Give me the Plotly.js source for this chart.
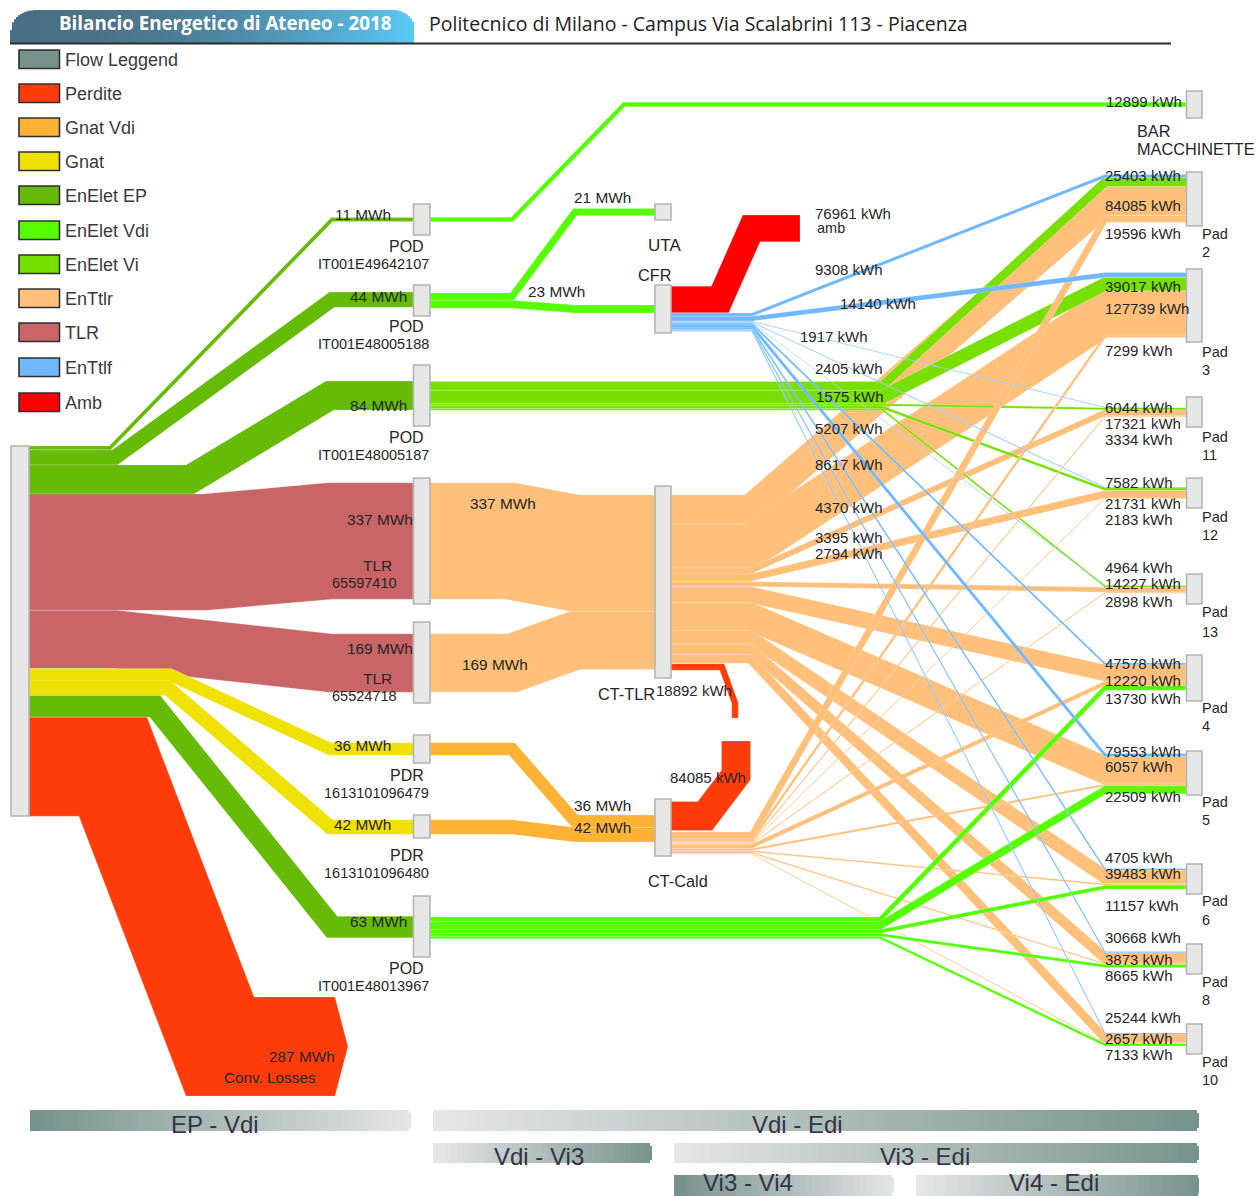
<!DOCTYPE html>
<html><head><meta charset="utf-8">
<script src="https://cdn.plot.ly/plotly-3.0.1.min.js"></script>
<style>html,body{margin:0;padding:0;background:#fff}#c{width:1256px;height:1196px}</style>
</head><body><div id="c"></div>
<script>
// ---------- DATA ----------
const padNames   = ['Pad 2','Pad 3','Pad 11','Pad 12','Pad 13','Pad 4','Pad 5','Pad 6','Pad 8','Pad 10'];
const enTtlf_kWh = [9308,14140,1917,2405,1575,5207,8617,4370,3395,2794];
const enVi_kWh   = [25403,39017,6044,7582,4964,0,0,0,0,0];
const enTtlr_kWh = [84085,127739,17321,21731,14227,47578,79553,39483,30668,25244];
const cald_kWh   = [19596,7299,3334,2183,2898,12220,6057,4705,3873,2657];
const enVdi_kWh  = [0,0,0,0,0,13730,22509,11157,8665,7133];
const bar_kWh    = 12899;
const ambient_kWh = 76961;
const lossCald_kWh = 84085;
const lossTlr_kWh = 18892;
const sourceNames = ['POD IT001E49642107','POD IT001E48005188','POD IT001E48005187','TLR 65597410','TLR 65524718','PDR 1613101096479','PDR 1613101096480','POD IT001E48013967','Conv. Losses'];
const source_MWh = [11,44,84,337,169,36,42,63,287];
const uta_MWh = 21;
const cfr_MWh = 23;
const legendNames = ['Flow Leggend','Perdite','Gnat Vdi','Gnat','EnElet EP','EnElet Vdi','EnElet Vi','EnTtlr','TLR','EnTtlf','Amb'];

// ---------- STYLE ----------
const C = {legend:'#75938c',loss:'#ff3c0a',gnatVdi:'#ffb233',gnat:'#efe100',ep:'#66bb06',vdi:'#55ff00',vi:'#77e000',ttlr:'#ffc07c',tlr:'#c96566',ttlf:'#70b8ff',amb:'#ff0000'};
const legendColors = [C.legend,C.loss,C.gnatVdi,C.gnat,C.ep,C.vdi,C.vi,C.ttlr,C.tlr,C.ttlf,C.amb];
const sourceColors = [C.ep,C.ep,C.ep,C.tlr,C.tlr,C.gnat,C.gnat,C.ep,C.loss];

// ---------- LAYOUT GEOMETRY ----------
const PX_PER_MWH = 0.345;
const w = mwh => mwh*PX_PER_MWH;
const wk = kwh => kwh/1000*PX_PER_MWH;
const padTop = [174.5,272.5,407,487,585,663,753.5,868.5,951.5,1033];
const X = {srcR:29,col1L:413,col1R:430,col2L:655,col2R:671,padL:1186,padR:1202,padBend:1105};

const traces = [];
function ribbon(pts, width, color, name, value, tip){
  const hw = width/2, L = [], R = [];
  for(let i=0;i<pts.length;i++){
    const a = pts[Math.max(i-1,0)], b = pts[i], c = pts[Math.min(i+1,pts.length-1)];
    let n1 = i>0 ? norm(a,b) : norm(b,c), n2 = i<pts.length-1 ? norm(b,c) : norm(a,b);
    let mx = n1[0]+n2[0], my = n1[1]+n2[1], m = Math.hypot(mx,my); mx/=m; my/=m;
    const k = hw/(mx*n1[0]+my*n1[1]);
    L.push([b[0]+mx*k,b[1]+my*k]); R.push([b[0]-mx*k,b[1]-my*k]);
  }
  let poly = L.slice();
  if(tip){const e = pts[pts.length-1]; poly.push([e[0]+tip,e[1]]);}
  poly = poly.concat(R.reverse()); poly.push(poly[0]);
  traces.push({type:'scatter',mode:'lines',x:poly.map(p=>p[0]),y:poly.map(p=>p[1]),fill:'toself',fillcolor:color,
    line:{width:0.7,color:'rgba(255,255,255,0.28)'},name:name,hoverinfo:'text',hoveron:'fills',text:name+': '+value,showlegend:false});
}
function norm(a,b){const dx=b[0]-a[0],dy=b[1]-a[1],l=Math.hypot(dx,dy);return [-dy/l,dx/l];}
function stack(top,widths){let y=top;return widths.map(v=>{const c=y+v/2;y+=v;return c;});}

// left column -> first column
const srcWidths = source_MWh.map(w);
const srcY = stack(446,srcWidths);
const srcRoutes = [
  [[110],[332,219.5]],[[115],[332,299.7]],[[190],[330,395.5]],[[205],[330,541]],[[115],[330,663]],
  [[170],[330,749]],[[168],[330,827]],[[155],[332,927]]
];
srcRoutes.forEach((r,i)=>{
  ribbon([[X.srcR,srcY[i]],[r[0][0],srcY[i]],[r[1][0],r[1][1]],[X.col1L,r[1][1]]],srcWidths[i],sourceColors[i],sourceNames[i],source_MWh[i]+' MWh');
});
ribbon([[X.srcR,srcY[8]],[113,srcY[8]],[220,1046.5],[335,1046.5]],srcWidths[8],C.loss,sourceNames[8],source_MWh[8]+' MWh',13);

// bar / vending + UTA / CFR feed
ribbon([[X.col1R,219.5],[512,219.5],[624,104.5],[X.padL,104.5]],wk(bar_kWh),C.vdi,'BAR MACCHINETTE',bar_kWh+' kWh');
const [utaY,cfrY] = stack(293,[w(uta_MWh),w(cfr_MWh)]);
ribbon([[X.col1R,utaY],[512,utaY],[575,212],[X.col2L,212]],w(uta_MWh),C.vdi,'UTA',uta_MWh+' MWh');
ribbon([[X.col1R,cfrY],[512,cfrY],[575,309],[X.col2L,309]],w(cfr_MWh),C.vdi,'CFR',cfr_MWh+' MWh');

// TLR -> CT-TLR
const [tlrA,tlrB] = stack(495,[w(source_MWh[3]),w(source_MWh[4])]);
ribbon([[X.col1R,541],[510,541],[575,tlrA],[X.col2L,tlrA]],w(source_MWh[3]),C.ttlr,'TLR to CT-TLR',source_MWh[3]+' MWh');
ribbon([[X.col1R,663],[512,663],[575,tlrB],[X.col2L,tlrB]],w(source_MWh[4]),C.ttlr,'TLR to CT-TLR',source_MWh[4]+' MWh');

// PDR -> CT-Cald
const [pdrA,pdrB] = stack(815,[w(source_MWh[5]),w(source_MWh[6])]);
ribbon([[X.col1R,749],[512,749],[575,pdrA],[X.col2L,pdrA]],w(source_MWh[5]),C.gnatVdi,'PDR to CT-Cald',source_MWh[5]+' MWh');
ribbon([[X.col1R,827],[512,827],[575,pdrB],[X.col2L,pdrB]],w(source_MWh[6]),C.gnatVdi,'PDR to CT-Cald',source_MWh[6]+' MWh');

// losses and ambient
ribbon([[X.col2R,299.5],[720,299.5],[751.5,228.4],[800,228.4]],wk(ambient_kWh),C.amb,'amb',ambient_kWh+' kWh');
ribbon([[X.col2R,816],[705,816],[736,775],[736,741]],wk(lossCald_kWh),C.loss,'CT-Cald losses',lossCald_kWh+' kWh');
ribbon([[X.col2R,667],[722,667],[735,703],[735,718]],wk(lossTlr_kWh),C.loss,'CT-TLR losses',lossTlr_kWh+' kWh');

// pad fan-outs: each pad's incoming stack, top to bottom
const series = [enTtlf_kWh,enVi_kWh,enTtlr_kWh,cald_kWh,enVdi_kWh];
const padY = padTop.map((t,p)=>stack(t,series.map(s=>wk(s[p]))));
function fan(sIdx,srcTop,x0,bendX,color,label,from,to){
  const vals = series[sIdx], ys = stack(srcTop,vals.map(wk));
  vals.forEach((v,p)=>{
    if(!v || p<from || p>to) return;
    const ty = padY[p][sIdx];
    ribbon([[x0,ys[p]],[bendX,ys[p]],[X.padBend,ty],[X.padL,ty]],wk(v),color,label+' to '+padNames[p],v+' kWh');
  });
}
fan(2,495,X.col2R,750,C.ttlr,'EnTtlr',0,2);
fan(1,381.5,X.col1R,882,C.vi,'EnElet Vi',0,9);
fan(2,495,X.col2R,750,C.ttlr,'EnTtlr',3,9);
fan(3,832,X.col2R,752,C.ttlr,'CT-Cald',0,9);
fan(4,917,X.col1R,880,C.vdi,'EnElet Vdi',0,9);
fan(0,313,X.col2R,752,C.ttlf,'EnTtlf',0,9);

// ---------- SHAPES ----------
const shapes = [];
function hex(c){return [1,3,5].map(i=>parseInt(c.substr(i,2),16));}
function mix(a,b,t){const A=hex(a),B=hex(b);return 'rgb('+A.map((v,i)=>Math.round(v+(B[i]-v)*t)).join(',')+')';}
function strip(x0,x1,y0,y1,c){shapes.push({type:'rect',layer:'below',xref:'x',yref:'y',x0,x1,y0,y1,fillcolor:c,line:{width:0}});}
function gradBar(x0,x1,y0,y1,cL,cR){
  const step=6;
  for(let x=x0;x<x1;x+=step){
    const xe=Math.min(x+step,x1), t=(x-x0)/(x1-x0), c=mix(cL,cR,t);
    if(xe===x1){strip(x,x1-2,y0,y1,c);strip(x1-2,x1,y0+3,y1-3,c);}else strip(x,xe,y0,y1,c);
  }
}
const DARK='#76928c', LIGHT='#e6e6e6';
const bands = [['EP - Vdi',30,411,1110,1131,DARK,LIGHT,215,1124],['Vdi - Edi',433,1199,1110,1131,LIGHT,DARK,797,1124],
 ['Vdi - Vi3',433,652,1143,1163,LIGHT,DARK,539,1156],['Vi3 - Edi',674,1199,1143,1163,LIGHT,DARK,925,1156],
 ['Vi3 - Vi4',674,894,1175,1196,DARK,LIGHT,748,1182],['Vi4 - Edi',916,1199,1175,1196,LIGHT,DARK,1054,1182]];
bands.forEach(b=>gradBar(b[1],b[2],b[3],b[4],b[5],b[6]));

// title banner
for(let x=10;x<414;x+=2){
  const t=(x-10)/404;
  let top=10;
  const rL=25,rR=22;
  if(x<10+rL){const d=(10+rL-x)/rL; top=10+20*(1-Math.sqrt(1-d*d));}
  if(x>414-rR){const d=(x-(414-rR))/rR; top=10+20*(1-Math.sqrt(1-d*d));}
  strip(x,x+2,top,43,mix('#4a6f82','#5bcaf9',t*t));
}
shapes.push({type:'line',layer:'above',xref:'x',yref:'y',x0:10,x1:1171,y0:43.5,y1:43.5,line:{color:'#2b2b2b',width:2}});

// legend swatches
const legendY=[50,84,118,152,186,221,255,289,323,358,393];
legendY.forEach((y,i)=>{
  shapes.push({type:'rect',layer:'above',xref:'x',yref:'y',x0:19,x1:59.5,y0:y,y1:y+18.5,fillcolor:legendColors[i],line:{color:'#2f2f2f',width:1.6}});
});

// nodes
const nodes=[[11,29,446,816],[413.5,430,204,235],[413.5,430,285,316],[413.5,430,365,426],[413.5,430,478,604],[413.5,430,622,703],
 [413.5,430,735,763],[413.5,430,815,838],[413.5,430,896,957],[655,671,204,220],[655,671,285,333],[655,671,486,678],[655,671,799,856],
 [1186.5,1202,91,118],[1186.5,1202,172,226],[1186.5,1202,269,342],[1186.5,1202,397,427],[1186.5,1202,478,508],[1186.5,1202,574,604],
 [1186.5,1202,655,701],[1186.5,1202,751,795],[1186.5,1202,864,894],[1186.5,1202,944,974],[1186.5,1202,1024,1054]];
nodes.forEach(n=>shapes.push({type:'rect',layer:'above',xref:'x',yref:'y',x0:n[0],x1:n[1],y0:n[2],y1:n[3],fillcolor:'#e7e7e7',line:{color:'#b4b4b4',width:1.6}}));

// ---------- TEXT ----------
const FONT='"Liberation Sans", Arial, sans-serif';
const ann=[];
function T(text,x,y,anchor,size,color,family,bold){
  ann.push({text:bold?'<b>'+text+'</b>':text,x,y,xref:'x',yref:'y',xanchor:anchor||'left',yanchor:'middle',showarrow:false,borderpad:0,borderwidth:0,
    font:{family:family||FONT,size:size||14.5,color:color||'#262626'}});
}
const kWhT = v=>v+' kWh', mwhT = v=>v+' MWh';
const SK=15, SM=15.4, SN=16.3;
legendNames.forEach((n,i)=>T(n,65,legendY[i]+10,'left',18,'#3a3a3a'));
bands.forEach(b=>T(b[0],b[7],b[8],'center',24,'#333344'));
T('Bilancio Energetico di Ateneo - 2018',225,23,'center',18.8,'#ffffff','"Open Sans"',true);
T('Politecnico di Milano - Campus Via Scalabrini 113 - Piacenza',429,23,'left',19.5,'#222222','"Open Sans"');

// first column values (right edge)
[[0,391,214],[1,407,296],[2,407,405],[3,413,519],[4,413,648],[5,391,745],[6,391,824],[7,407,921]].forEach(r=>T(mwhT(source_MWh[r[0]]),r[1],r[2],'right',SM));
[['POD','IT001E49642107',246,264],['POD','IT001E48005188',326,344],['POD','IT001E48005187',437,455],
 ['PDR','1613101096479',775,793],['PDR','1613101096480',855,873],['POD','IT001E48013967',968,986]].forEach(r=>{T(r[0],424,r[2],'right',16);T(r[1],429,r[3],'right');});
T('TLR',392,565,'right',15.5);T('65597410',397,583,'right');T('TLR',392,678,'right',15.5);T('65524718',397,696,'right');
T(mwhT(source_MWh[8]),335,1056,'right',SM);T('Conv. Losses',316,1077,'right',15.3);
T(mwhT(uta_MWh),574,197,'left',SM);T(mwhT(cfr_MWh),528,291,'left',SM);T('UTA',648,245,'left',17);T('CFR',638,275,'left',SN);
T(mwhT(source_MWh[3]),470,503,'left',SM);T(mwhT(source_MWh[4]),462,664,'left',SM);T('CT-TLR',598,694,'left',SN);T(kWhT(lossTlr_kWh),656,690,'left',SK);
T(kWhT(lossCald_kWh),670,777,'left',SK);T(mwhT(source_MWh[5]),574,805,'left',SM);T(mwhT(source_MWh[6]),574,827,'left',SM);T('CT-Cald',648,881,'left',SN);
T(kWhT(ambient_kWh),815,213,'left',SK);T('amb',817,228);
[[815,269],[840,303],[800,336],[815,368],[816,396],[815,428],[815,464],[815,507],[815,537],[815,553]].forEach((p,i)=>T(kWhT(enTtlf_kWh[i]),p[0],p[1],'left',SK));

// pad column: value labels and pad names
T(kWhT(bar_kWh),1106,101,'left',SK);T('BAR',1137,131,'left',SN);T('MACCHINETTE',1137,149,'left',SN);
const padValueLabels=[
 [[enVi_kWh,175],[enTtlr_kWh,205],[cald_kWh,233]],[[enVi_kWh,286],[enTtlr_kWh,308],[cald_kWh,350]],
 [[enVi_kWh,407],[enTtlr_kWh,423],[cald_kWh,439]],[[enVi_kWh,482],[enTtlr_kWh,503],[cald_kWh,519]],
 [[enVi_kWh,567],[enTtlr_kWh,583],[cald_kWh,601]],[[enTtlr_kWh,663],[cald_kWh,680],[enVdi_kWh,698]],
 [[enTtlr_kWh,751],[cald_kWh,766],[enVdi_kWh,796]],[[cald_kWh,857],[enTtlr_kWh,873],[enVdi_kWh,905]],
 [[enTtlr_kWh,937],[cald_kWh,959],[enVdi_kWh,975]],[[enTtlr_kWh,1017],[cald_kWh,1038],[enVdi_kWh,1054]]];
padValueLabels.forEach((rows,p)=>rows.forEach(r=>T(kWhT(r[0][p]),1105,r[1],'left',SK)));
const padLabelY=[[234,252],[352,370],[437,455],[517,535],[612,632],[708,726],[802,820],[901,920],[982,1000],[1062,1080]];
padNames.forEach((n,p)=>{const s=n.split(' ');T(s[0],1202,padLabelY[p][0]);T(s[1],1202,padLabelY[p][1]);});

const layout={width:1256,height:1196,margin:{l:0,r:0,t:0,b:0,pad:0},paper_bgcolor:'#fff',plot_bgcolor:'#fff',showlegend:false,
 xaxis:{range:[0,1256],visible:false,fixedrange:true},yaxis:{range:[1196,0],visible:false,fixedrange:true},shapes,annotations:ann,hovermode:'closest'};
Plotly.newPlot('c',traces,layout,{displayModeBar:false,staticPlot:false,responsive:false});
</script></body></html>
